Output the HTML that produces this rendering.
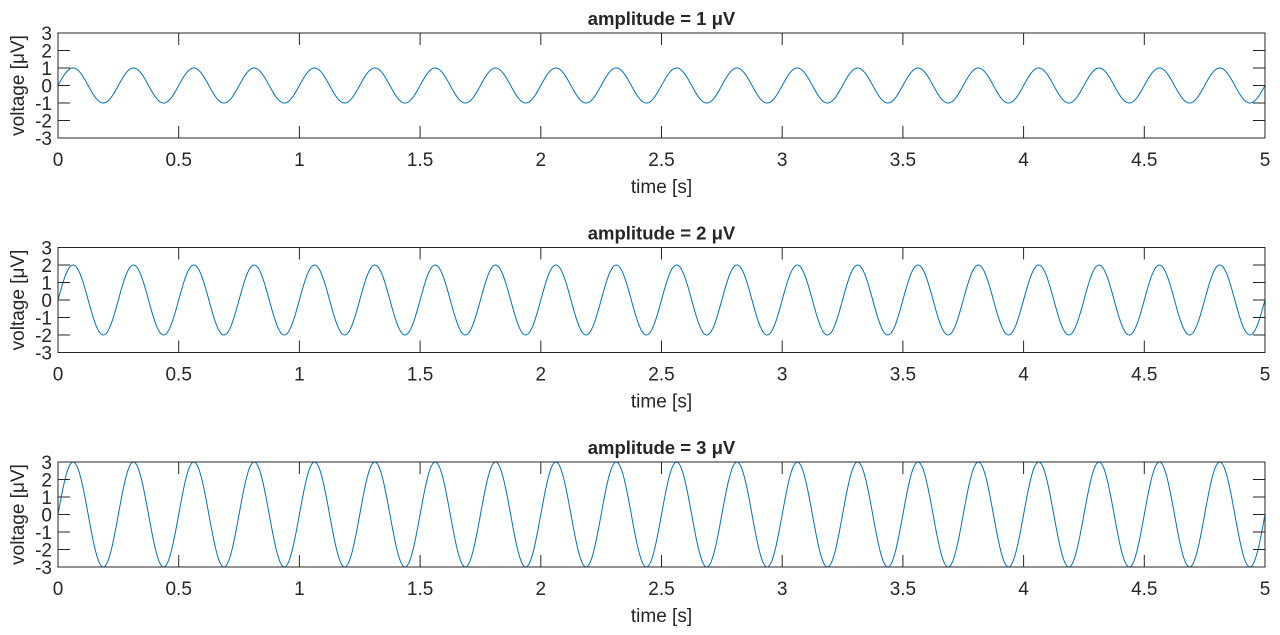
<!DOCTYPE html>
<html><head><meta charset="utf-8"><style>
body{margin:0;background:#fff}
svg text{font-family:"Liberation Sans",sans-serif;fill:#262626}
</style></head><body>
<svg id="s" width="1280" height="630" xmlns="http://www.w3.org/2000/svg"></svg>
<script>
const s=document.getElementById('s');
let h='';
const L=58,R=1265,W=R-L,H=105;
const tops=[33,247.5,462];
tops.forEach((T,i)=>{
 const A=i+1,B=T+H;
 let d='';
 for(let k=0;k<=2000;k++){const t=5*k/2000;const x=L+W*t/5;const y=T+H/2-(A*Math.sin(2*Math.PI*4*t))*H/6;d+=(k?'L':'M')+x.toFixed(2)+' '+y.toFixed(2);}
 h+=`<path d="${d}" fill="none" stroke="#0072BD" stroke-width="1"/>`;
 h+=`<rect x="${L}" y="${T}" width="${W}" height="${H}" fill="none" stroke="#262626" stroke-width="1"/>`;
 for(let j=0;j<=10;j++){const x=L+W*j/10;
  h+=`<line x1="${x}" y1="${B}" x2="${x}" y2="${B-12}" stroke="#262626"/><line x1="${x}" y1="${T}" x2="${x}" y2="${T+12}" stroke="#262626"/>`;
  h+=`<text x="${x}" y="${B+28}" font-size="19" text-anchor="middle">${j/2}</text>`;}
 for(let v=-3;v<=3;v++){const y=T+H/2-v*H/6;
  h+=`<line x1="${L}" y1="${y}" x2="${L+12}" y2="${y}" stroke="#262626"/><line x1="${R}" y1="${y}" x2="${R-12}" y2="${y}" stroke="#262626"/>`;
  h+=`<text x="${L-6}" y="${y+7}" font-size="19" text-anchor="end">${v<0?'-'+(-v):v}</text>`;}
 h+=`<text x="${(L+R)/2}" y="${T-8}" font-size="18.5" font-weight="bold" text-anchor="middle" fill="#000">amplitude = ${A} μV</text>`;
 h+=`<text x="${(L+R)/2}" y="${B+55}" font-size="19" text-anchor="middle">time [s]</text>`;
 h+=`<text transform="translate(24 ${T+H/2}) rotate(-90)" font-size="19" text-anchor="middle">voltage [μV]</text>`;
});
s.innerHTML=h;
</script>
</body></html>
